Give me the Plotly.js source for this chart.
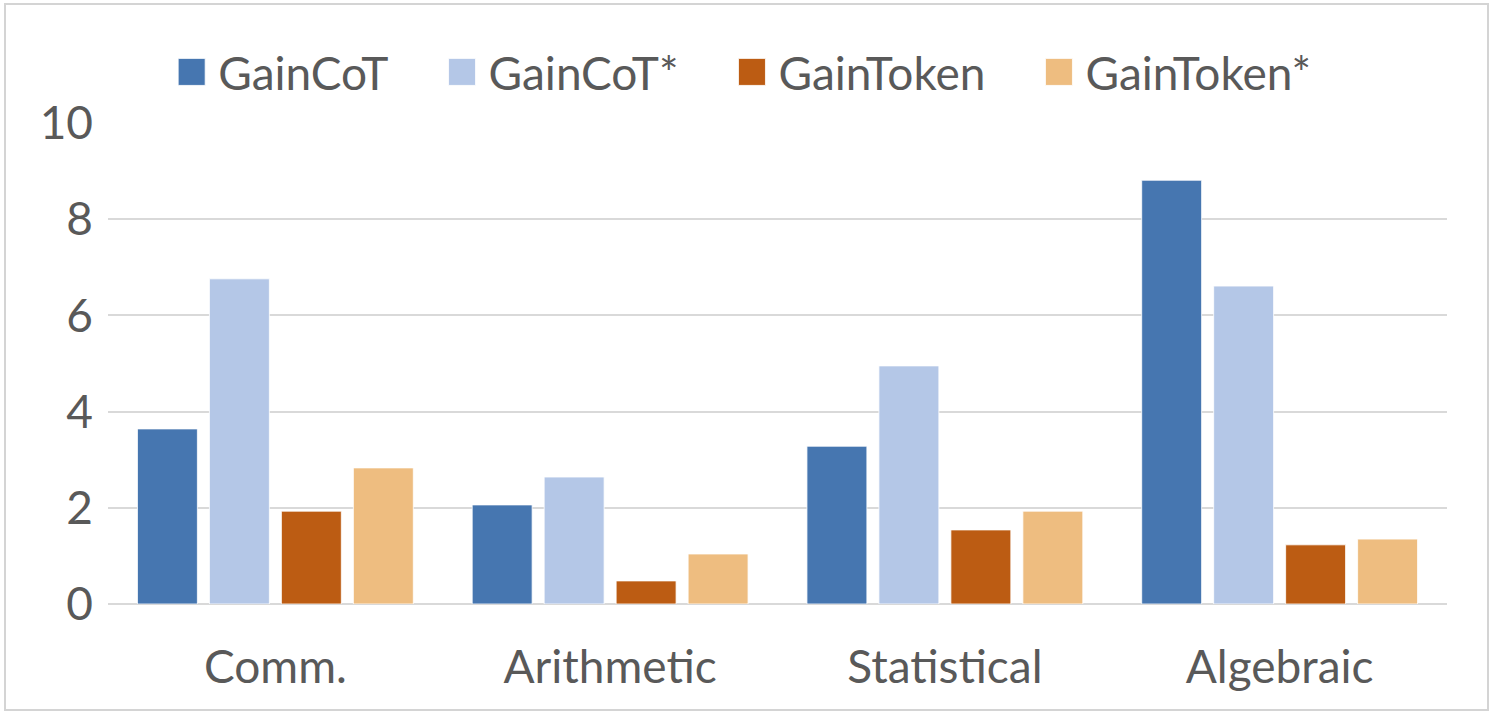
<!DOCTYPE html>
<html>
<head>
<meta charset="utf-8">
<script src="https://cdn.plot.ly/plotly-3.0.1.min.js"></script>
<style>
  html, body { margin: 0; padding: 0; background: #fff; }
  #wrap { position: relative; width: 1491px; height: 716px; }
  #chart { position: absolute; left: 0; top: 0; width: 1491px; height: 716px; }
  #frame { position: absolute; left: 4px; top: 3px; width: 1481px; height: 704px; border: 2px solid #d4d4d4; pointer-events: none; }
</style>
</head>
<body>
<div id="wrap"><div id="chart"></div><div id="frame"></div></div>
<script>
const categories = ["Comm.", "Arithmetic", "Statistical", "Algebraic"];
const seriesNames = ["GainCoT", "GainCoT*", "GainToken", "GainToken*"];
const gainCoT = [3.64, 2.06, 3.28, 8.81];
const gainCoTStar = [6.76, 2.64, 4.95, 6.61];
const gainToken = [1.93, 0.48, 1.54, 1.23];
const gainTokenStar = [2.83, 1.04, 1.93, 1.35];
const seriesColors = ["#4676B0", "#B4C7E7", "#BC5C13", "#EEBD80"];
const yTicks = [0, 2, 4, 6, 8, 10];

const allValues = [gainCoT, gainCoTStar, gainToken, gainTokenStar];
const traces = allValues.map((vals, i) => ({
  type: "bar",
  name: seriesNames[i],
  x: categories,
  y: vals,
  marker: { color: seriesColors[i], line: { color: "rgba(255,255,255,0.8)", width: 1 } },
  hoverinfo: "x+y+name"
}));

const font = "Lato, 'Open Sans', sans-serif";
const fsize = 46;
const layout = {
  width: 1491,
  height: 716,
  margin: { l: 108, r: 44, t: 123, b: 112, pad: 0 },
  paper_bgcolor: "#ffffff",
  plot_bgcolor: "#ffffff",
  barmode: "group",
  bargap: 0.14,
  bargroupgap: 0.167,
  font: { family: font, size: fsize, color: "#595959" },
  showlegend: true,
  legend: {
    orientation: "h",
    x: 0.03, xanchor: "left",
    y: 1.106, yanchor: "middle",
    itemwidth: 60,
    font: { family: font, size: fsize, color: "#595959" },
    bgcolor: "rgba(0,0,0,0)",
    itemclick: false
  },
  xaxis: {
    type: "category",
    showgrid: false,
    showline: false,
    zeroline: false,
    ticks: "",
    ticklabelstandoff: 32,
    tickfont: { family: font, size: fsize, color: "#595959" }
  },
  yaxis: {
    range: [0, 10],
    tickvals: yTicks,
    ticktext: yTicks.map(String),
    showgrid: true,
    gridcolor: "#d9d9d9",
    gridwidth: 2,
    zeroline: true,
    zerolinecolor: "#d9d9d9",
    zerolinewidth: 2,
    showline: false,
    ticks: "",
    ticklabelstandoff: 14,
    tickfont: { family: font, size: fsize, color: "#595959" }
  }
};

Plotly.newPlot("chart", traces, layout, { displayModeBar: false, staticPlot: true }).then(() => {
  document.querySelectorAll(".legend [clip-path], .legend").forEach(el => el.removeAttribute("clip-path"));
  const items = Array.from(document.querySelectorAll(".legend .traces"));
  let nextX = null;
  items.forEach(t => {
    const lp = t.querySelector(".legendpoints");
    if (lp) {
      lp.querySelectorAll("path").forEach(p => p.setAttribute("d", "M13.5,13.5H-13.5V-13.5H13.5Z"));
      const prev = lp.getAttribute("transform") || "";
      lp.setAttribute("transform", prev + " translate(8.5,0)");
    }
    const tr = t.getAttribute("transform") || "translate(0,0)";
    const m = tr.match(/translate\(\s*([-\d.]+)[ ,]+([-\d.]+)\s*\)/);
    let x = m ? parseFloat(m[1]) : 0;
    const y = m ? parseFloat(m[2]) : 0;
    if (nextX !== null) x = nextX;
    t.setAttribute("transform", "translate(" + x + "," + y + ")");
    const txt = t.querySelector("text.legendtext");
    const w = txt ? txt.getComputedTextLength() : 160;
    nextX = x + w + 100;
  });
});
</script>
</body>
</html>
